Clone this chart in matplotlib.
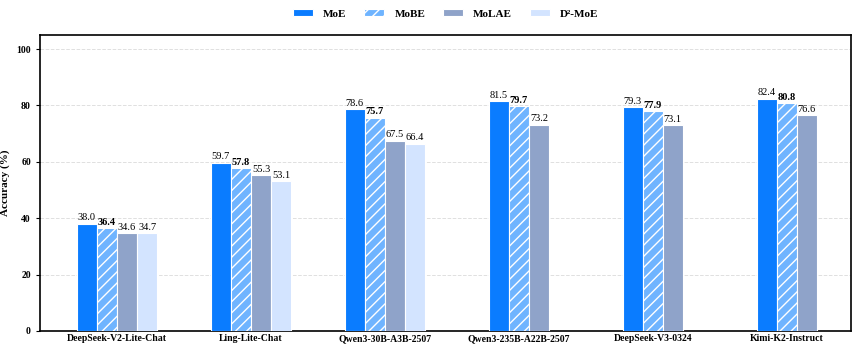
import matplotlib.pyplot as plt
import numpy as np

plt.rcParams['font.family'] = ['Liberation Serif', 'DejaVu Serif']
plt.rcParams['hatch.color'] = 'white'

models = ["DeepSeek-V2-Lite-Chat", "Ling-Lite-Chat", "Qwen3-30B-A3B-2507",
          "Qwen3-235B-A22B-2507", "DeepSeek-V3-0324", "Kimi-K2-Instruct"]
methods = ["MoE", "MoBE", "MoLAE", "D²-MoE"]
moe = [38.0, 59.7, 78.6, 81.5, 79.3, 82.4]
mobe = [36.4, 57.8, 75.7, 79.7, 77.9, 80.8]
molae = [34.6, 55.3, 67.5, 73.2, 73.1, 76.6]
d2moe = [34.7, 53.1, 66.4, None, None, None]

colors = ["#0a7cff", "#6fb4ff", "#8fa3c9", "#d3e4ff"]
hatches = [None, "///", None, None]

fig = plt.figure(figsize=(8.59, 3.48), dpi=100)
ax = fig.add_axes([40/859, 1-331/348, 811/859, 296/348])

w = 0.15
series = [moe, mobe, molae, d2moe]
for i in range(len(models)):
    vals = [s[i] for s in series]
    n = sum(v is not None for v in vals)
    start = i - (n - 1) * w / 2
    k = 0
    for j, v in enumerate(vals):
        if v is None:
            continue
        x = start + k * w
        ax.bar(x, v, w, color=colors[j], edgecolor="white", linewidth=0.8,
               hatch=hatches[j], label=methods[j] if i == 0 else None, zorder=3)
        ax.text(x, v + 0.5, f"{v:.1f}", ha="center", va="bottom", fontsize=7.5,
                fontweight="bold" if j == 1 else "normal", zorder=4)
        k += 1

ax.set_xticks(range(len(models)))
ax.set_xticklabels(models, fontsize=7, fontweight="bold")
ax.set_xlim(-0.575, 5.48)
ax.set_ylim(0, 105)
ax.set_yticks([0, 20, 40, 60, 80, 100])
ax.set_yticklabels(["0", "20", "40", "60", "80", "100"], fontsize=7, fontweight="bold")
ax.set_ylabel("Accuracy (%)", fontsize=8, fontweight="bold")
ax.yaxis.set_label_coords(-0.037, 0.5)
ax.tick_params(axis="x", length=0, pad=2)
ax.tick_params(axis="y", length=3)
ax.grid(axis="y", linestyle="--", color="#e0e0e0", linewidth=0.7, zorder=0)
for sp in ax.spines.values():
    sp.set_linewidth(1.2)

leg = ax.legend(loc="center", bbox_to_anchor=(0.519, 1 - 14/348), bbox_transform=fig.transFigure,
                ncol=4, frameon=False,
                prop={"weight": "bold", "size": 8}, handlelength=1.8, handleheight=0.5,
                handletextpad=0.9, columnspacing=1.6)

fig.savefig("out.png", dpi=100)
